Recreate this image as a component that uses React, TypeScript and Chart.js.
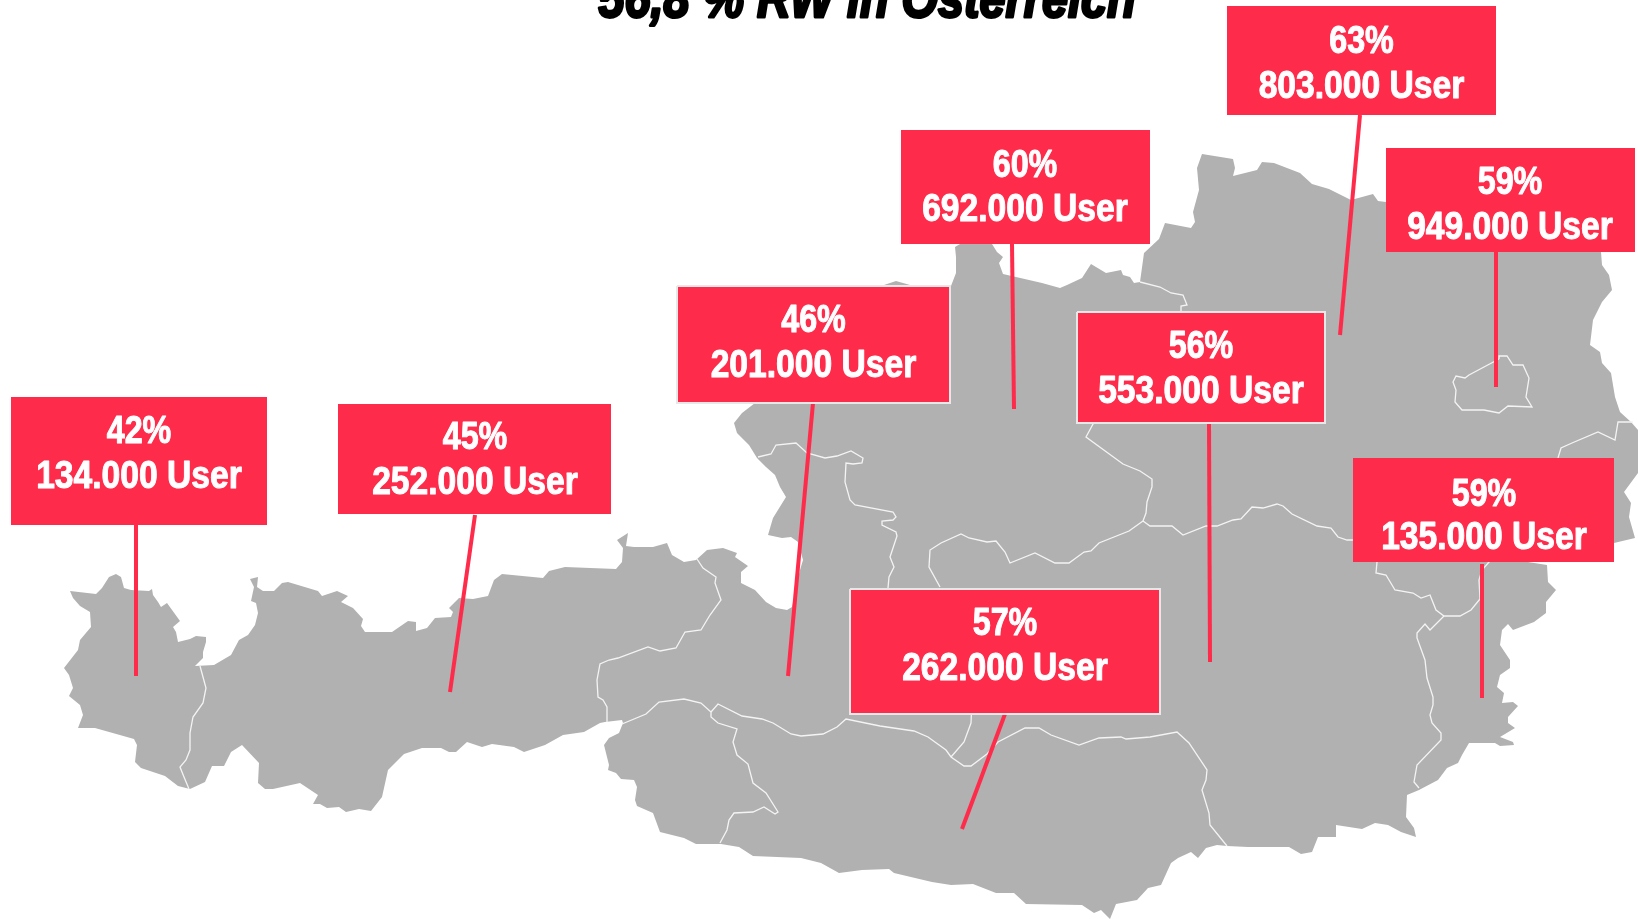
import React, { useEffect, useRef } from "react";
import { Chart, registerables } from "chart.js";

Chart.register(...registerables);

type P = [number, number];

const titleText = "56,8 % RW in Österreich";
const percents = ["42%", "45%", "46%", "60%", "63%", "59%", "56%", "59%", "57%"];
const users = ["134.000 User", "252.000 User", "201.000 User", "692.000 User", "803.000 User", "949.000 User", "553.000 User", "135.000 User", "262.000 User"];

const boxLeft = [11, 338, 677, 901, 1227, 1386, 1077, 1353, 850];
const boxRight = [267, 611, 950, 1150, 1496, 1635, 1325, 1614, 1160];
const boxTop = [397, 404, 286, 130, 6, 148, 312, 458, 589];
const boxBottom = [525, 514, 403, 244, 115, 252, 423, 562, 714];
const textCenter = [139, 475, 813.5, 1025, 1361.5, 1510, 1201, 1484, 1005];
const baselineTop = [442.5, 448.5, 331.5, 176.5, 52.5, 193.5, 357.5, 505.5, 634.5];
const baselineBottom = [487.5, 493.5, 376.5, 220.5, 97.5, 238.5, 402.5, 548.5, 679.5];
const leaderFrom: P[] = [[136, 525], [475, 515], [813, 403], [1012, 244], [1360, 115], [1496, 252], [1209, 423], [1482, 564], [1005, 714]];
const leaderTo: P[] = [[136, 676], [450, 692], [788, 676], [1014, 409], [1340, 335], [1496, 387], [1210, 662], [1482, 698], [962, 829]];

const outline: P[] = [
  [70,591],[96,594],[102,588],[109,577],[116,574],[121,577],[124,588],[131,590],[149,591],[152,589],[153,595],[158,602],[161,607],[167,603],[180,621],[173,627],[176,632],[178,642],[190,639],[196,636],[206,637],[206,642],[203,652],[203,658],[195,666],[214,665],[231,655],[239,640],[248,635],[255,625],[258,613],[256,603],[251,601],[254,587],[250,579],[258,577],[257,587],[263,591],[274,591],[282,583],[288,582],[318,591],[322,596],[337,591],[348,596],[341,602],[353,608],[363,619],[361,626],[365,632],[392,632],[408,621],[416,622],[416,631],[427,628],[435,618],[451,617],[453,612],[449,608],[459,598],[473,599],[488,596],[494,580],[502,574],[543,578],[549,571],[565,567],[616,569],[622,562],[623,548],[617,540],[628,533],[626,546],[634,547],[653,547],[667,543],[672,555],[684,562],[696,560],[707,550],[723,548],[737,553],[735,557],[748,566],[741,572],[741,583],[755,590],[766,602],[776,608],[787,610],[792,607],[800,570],[803,560],[798,542],[791,537],[782,538],[768,535],[773,518],[786,497],[780,487],[775,475],[766,467],[757,458],[749,445],[737,433],[734,423],[742,413],[755,403],[800,360],[860,300],[881,286],[896,281],[910,285],[951,286],[956,273],[956,257],[955,247],[960,244],[992,244],[997,252],[1003,257],[999,263],[1003,274],[1042,283],[1060,288],[1067,285],[1082,278],[1091,264],[1106,273],[1121,270],[1123,275],[1130,277],[1134,283],[1140,282],[1144,253],[1159,239],[1165,223],[1191,228],[1195,222],[1193,212],[1199,190],[1197,168],[1202,154],[1233,159],[1235,168],[1233,176],[1257,170],[1262,162],[1274,163],[1300,173],[1312,184],[1329,189],[1351,200],[1373,194],[1378,201],[1386,202],[1450,210],[1590,240],[1601,252],[1602,265],[1609,275],[1612,290],[1602,302],[1593,320],[1590,345],[1600,352],[1602,363],[1611,373],[1615,397],[1620,412],[1631,422],[1638,430],[1638,473],[1624,492],[1631,503],[1629,517],[1635,538],[1614,543],[1560,552],[1528,562],[1547,565],[1548,582],[1556,590],[1546,602],[1546,613],[1534,622],[1513,630],[1508,624],[1502,630],[1500,645],[1510,660],[1510,668],[1500,675],[1497,687],[1504,693],[1502,703],[1513,702],[1518,706],[1508,717],[1508,723],[1515,728],[1500,737],[1513,742],[1514,745],[1500,746],[1495,743],[1469,743],[1462,755],[1458,763],[1447,768],[1438,780],[1419,790],[1407,795],[1406,817],[1414,828],[1416,837],[1401,832],[1388,825],[1375,823],[1362,829],[1336,825],[1336,837],[1318,837],[1312,852],[1301,854],[1289,847],[1248,847],[1227,846],[1217,845],[1206,848],[1198,858],[1191,852],[1178,858],[1171,863],[1161,885],[1148,888],[1137,900],[1116,904],[1110,919],[1101,910],[1094,913],[1082,905],[1026,904],[1014,893],[996,893],[973,884],[951,885],[932,882],[894,873],[889,869],[862,870],[839,873],[821,863],[801,858],[753,856],[739,847],[721,844],[696,844],[684,838],[660,832],[653,813],[637,806],[635,800],[637,787],[634,780],[621,779],[616,773],[608,770],[609,765],[604,745],[609,738],[619,733],[623,723],[622,720],[605,722],[600,723],[584,732],[563,735],[545,745],[524,752],[514,747],[492,744],[482,747],[467,742],[456,752],[449,752],[441,748],[422,748],[404,754],[388,770],[382,797],[371,811],[359,809],[346,812],[339,807],[327,808],[320,804],[313,804],[318,795],[300,783],[273,789],[265,789],[258,783],[259,763],[242,745],[231,752],[224,766],[212,766],[205,782],[190,789],[178,786],[165,776],[141,768],[135,762],[137,745],[134,739],[95,728],[78,728],[83,715],[80,705],[69,696],[73,688],[69,675],[64,668],[78,650],[80,640],[91,627],[90,612],[80,606],[73,598],[70,591],
];

const borderVorarlberg: P[] = [[200,666],[206,688],[203,703],[193,717],[190,733],[190,750],[186,760],[180,767],[184,777],[189,789]];
const borderTirolSalzburg: P[] = [[697,559],[703,568],[716,577],[715,583],[721,600],[710,615],[701,630],[685,632],[676,648],[660,651],[648,647],[618,658],[609,660],[600,664],[597,680],[598,697],[603,700],[607,707],[607,722]];
const borderOsttirol: P[] = [[622,724],[646,714],[659,702],[684,699],[701,703],[711,712],[711,717],[718,723],[737,729],[733,742],[737,755],[748,764],[753,783],[766,793],[778,812],[775,814],[764,807],[753,812],[734,813],[729,820],[727,830],[720,843]];
const borderKaernten: P[] = [[711,712],[718,704],[742,716],[762,719],[773,723],[791,734],[801,736],[823,734],[837,727],[846,719],[880,726],[914,731],[928,737],[946,750],[951,757],[964,766],[971,766],[987,754],[998,742],[1025,728],[1039,728],[1051,735],[1079,745],[1099,738],[1121,737],[1126,739],[1150,737],[1177,732],[1189,743],[1207,770],[1206,780],[1202,790],[1209,813],[1210,825],[1227,846]];
const borderLungau: P[] = [[951,757],[964,742],[971,723],[972,700]];
const borderSalzburgOoe: P[] = [[758,457],[771,454],[776,445],[796,443],[807,453],[825,458],[837,456],[851,451],[863,458],[862,463],[853,464],[846,463],[845,482],[850,500],[855,505],[893,512],[896,517],[893,520],[882,521],[882,525],[896,532],[897,536],[890,557],[894,567],[889,577],[888,588]];
const borderSalzburgStmk: P[] = [[940,587],[929,567],[930,550],[941,543],[961,534],[969,538],[987,542],[996,541],[1005,552],[1010,563],[1035,553],[1055,563],[1069,563],[1084,552],[1091,551],[1099,543],[1129,531],[1143,521]];
const borderOoeNoe: P[] = [[1143,521],[1146,513],[1147,502],[1152,487],[1152,479],[1140,471],[1123,464],[1086,437],[1093,424],[1181,312],[1181,306],[1187,305],[1183,295],[1171,293],[1160,287],[1140,282]];
const borderStmkNoe: P[] = [[1143,521],[1150,526],[1172,526],[1183,535],[1206,526],[1217,526],[1233,520],[1241,519],[1252,507],[1263,508],[1277,504],[1283,506],[1292,514],[1317,526],[1331,528],[1338,537],[1347,540],[1353,540],[1377,562],[1376,573],[1386,575],[1395,590],[1413,593],[1421,598],[1430,595],[1436,610],[1444,616],[1460,616],[1471,610],[1480,599],[1479,580],[1482,570],[1489,562],[1558,458],[1561,448],[1572,443],[1598,432],[1615,440],[1618,422],[1624,422],[1633,422]];
const borderBurgenland: P[] = [[1444,616],[1430,630],[1425,624],[1417,633],[1417,638],[1425,660],[1427,678],[1433,697],[1433,705],[1430,715],[1432,723],[1441,733],[1441,740],[1417,765],[1414,782],[1419,788]];
const borderWien: P[] = [[1499,359],[1469,375],[1465,378],[1456,376],[1453,382],[1456,390],[1455,402],[1462,410],[1484,410],[1499,413],[1508,406],[1532,407],[1526,397],[1529,378],[1523,365],[1513,365],[1507,356],[1499,356],[1499,359]];
const stateBorders = [borderVorarlberg, borderTirolSalzburg, borderOsttirol, borderKaernten, borderLungau, borderSalzburgOoe, borderSalzburgStmk, borderOoeNoe, borderStmkNoe, borderBurgenland, borderWien];

const framedBoxes = [false, false, true, false, false, false, true, false, true];

const RED = "#ff2b4b";
const GREY = "#b1b1b1";
const FONT = '"Liberation Sans", sans-serif';

const toPts = (a: P[]) => a.map(([x, y]) => ({ x, y }));

const drawStretched = (ctx: CanvasRenderingContext2D, text: string, x: number, y: number, sx: number, stroke: number) => {
  ctx.save();
  ctx.translate(x, y);
  ctx.scale(sx, 1);
  ctx.textAlign = "center";
  ctx.textBaseline = "alphabetic";
  ctx.fillText(text, 0, 0);
  ctx.lineWidth = stroke;
  ctx.lineJoin = "round";
  ctx.strokeText(text, 0, 0);
  ctx.restore();
};

const labelPlugin = {
  id: "labels",
  afterDatasetsDraw(chart: any) {
    const { ctx, scales } = chart;
    const px = (v: number) => scales.x.getPixelForValue(v);
    const py = (v: number) => scales.y.getPixelForValue(v);
    ctx.save();
    ctx.fillStyle = "#fff";
    ctx.strokeStyle = "#fff";
    ctx.font = `bold 38px ${FONT}`;
    percents.forEach((p, i) => {
      drawStretched(ctx, p, px(textCenter[i]), py(baselineTop[i]), 0.85, 1);
      drawStretched(ctx, users[i], px(textCenter[i]), py(baselineBottom[i]), 0.885, 1);
    });
    ctx.fillStyle = "#000";
    ctx.strokeStyle = "#000";
    ctx.font = `italic bold 56px ${FONT}`;
    drawStretched(ctx, titleText, px(867), py(17), 0.835, 3);
    ctx.restore();
  },
};

export default function App() {
  const ref = useRef<HTMLCanvasElement | null>(null);
  useEffect(() => {
    document.body.style.margin = "0";
    const base = { pointRadius: 0, pointHoverRadius: 0, showLine: true, tension: 0, clip: false as const };
    const list: any[] = [
      { ...base, data: toPts(outline), backgroundColor: GREY, borderColor: GREY, borderWidth: 0, fill: "shape" },
      ...stateBorders.map((b) => ({ ...base, data: toPts(b), borderColor: "#f4f4f4", borderWidth: 1.3, fill: false })),
      ...leaderFrom.map((f, i) => ({ ...base, data: toPts([f, leaderTo[i]]), borderColor: RED, borderWidth: 4, borderCapStyle: "butt", fill: false })),
      ...percents.map((_, i) => ({
        ...base,
        data: toPts([[boxLeft[i], boxTop[i]], [boxRight[i], boxTop[i]], [boxRight[i], boxBottom[i]], [boxLeft[i], boxBottom[i]], [boxLeft[i], boxTop[i]]]),
        backgroundColor: RED,
        borderColor: framedBoxes[i] ? "#e8e8e8" : RED,
        borderWidth: framedBoxes[i] ? 2 : 0,
        borderJoinStyle: "miter",
        fill: "shape",
      })),
    ];
    list.forEach((d, i) => { d.order = list.length - i; });
    const chart = new Chart(ref.current as HTMLCanvasElement, {
      type: "scatter",
      data: { datasets: list },
      options: {
        animation: false,
        responsive: false,
        layout: { padding: 0 },
        plugins: { legend: { display: false }, tooltip: { enabled: false }, title: { display: false } },
        scales: {
          x: { type: "linear", min: 0, max: 1638, display: false },
          y: { type: "linear", min: 0, max: 919, reverse: true, display: false },
        },
      },
      plugins: [labelPlugin],
    } as any);
    return () => chart.destroy();
  }, []);
  return <canvas ref={ref} width={1638} height={919} style={{ display: "block" }} />;
}
